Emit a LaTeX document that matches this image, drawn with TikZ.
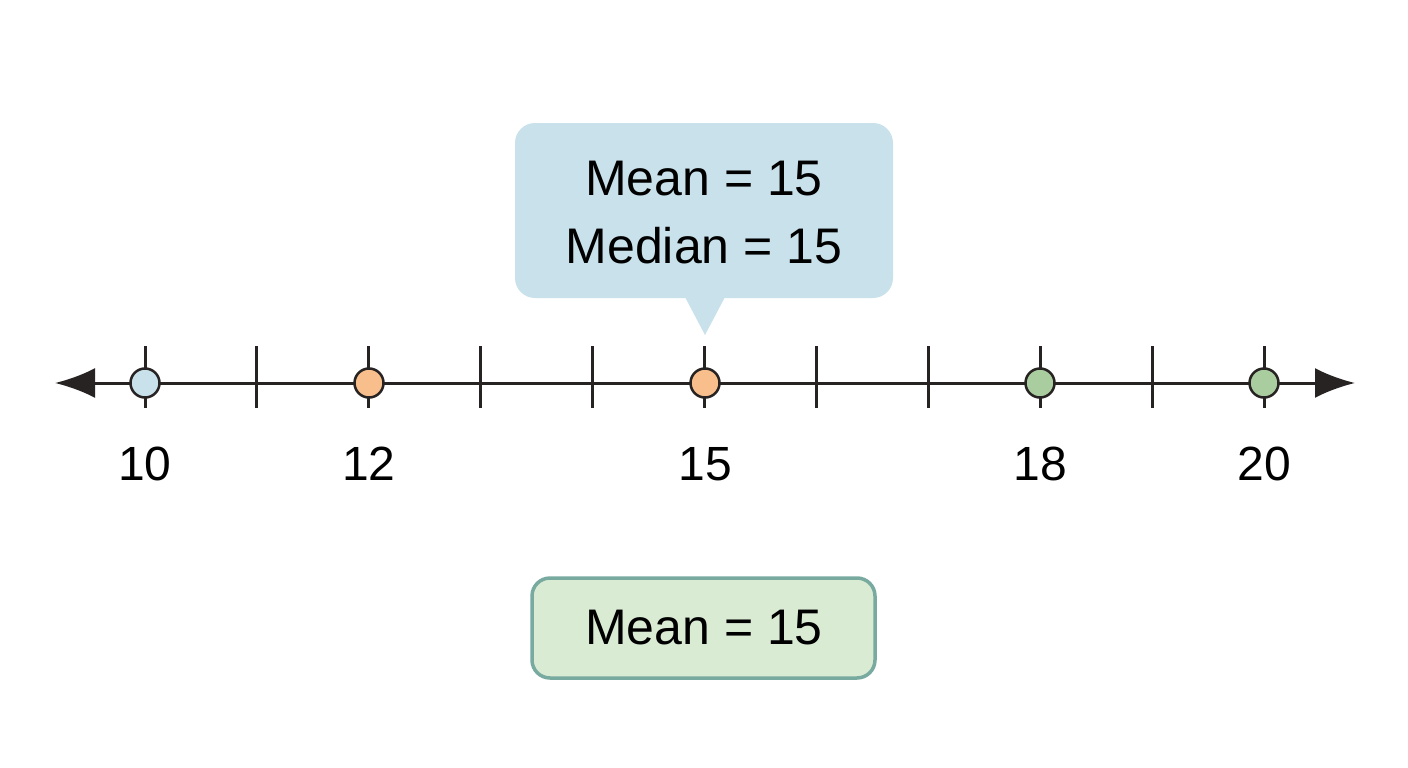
\documentclass[tikz,border=0pt]{standalone}
\usepackage{fontspec}
\setmainfont{Liberation Sans}
\usetikzlibrary{arrows.meta}
\definecolor{calloutblue}{RGB}{200,225,235}
\definecolor{boxgreen}{RGB}{218,235,212}
\definecolor{boxedge}{RGB}{120,170,160}
\definecolor{dotblue}{RGB}{200,225,235}
\definecolor{dotorange}{RGB}{248,190,140}
\definecolor{dotgreen}{RGB}{170,205,160}
\definecolor{axisgray}{RGB}{40,35,35}
\tikzset{every picture/.style={line width=3pt}}
\tikzset{
  tick/.style={draw=axisgray,line width=3pt},
  datadot/.style={circle,draw=axisgray,line width=2.5pt,minimum size=29pt,inner sep=0pt},
  numlabel/.style={font=\fontsize{48}{52}\selectfont},
}
\begin{document}
\begin{tikzpicture}[x=1pt,y=1pt,yscale=-1]
\useasboundingbox (0,0) rectangle (1408,768);

%Callout
\draw [fill=calloutblue,draw=none,rounded corners=20pt] (515,123) rectangle (893,298);
\fill [calloutblue] (685,297) -- (705,335) -- (725,297) -- cycle;
\node (stats) at (704,213) [align=center,font=\fontsize{50}{68}\selectfont] {Mean = 15\\Median = 15};

%Axis
\coordinate (left) at (55,383);
\coordinate (right) at (1355,383);
\draw [axisgray,{Latex[length=40pt,width=30pt]}-{Latex[length=40pt,width=30pt]}] (left) -- (right);
\foreach \i in {0,...,10}
  \draw [tick] ({145+111.9*\i},346) -- ({145+111.9*\i},408);

%Data points
\node [datadot,fill=dotblue] (p10) at (145,383) {};
\node [datadot,fill=dotorange] (p12) at (369,383) {};
\node [datadot,fill=dotorange] (p15) at (705,383) {};
\node [datadot,fill=dotgreen] (p18) at (1040,383) {};
\node [datadot,fill=dotgreen] (p20) at (1264,383) {};

% Text Node
\node [numlabel] (l10) at (145,464) {10};
\node [numlabel] (l12) at (369,464) {12};
\node [numlabel] (l15) at (705,464) {15};
\node [numlabel] (l18) at (1040,464) {18};
\node [numlabel] (l20) at (1264,464) {20};

%Green box
\draw [fill=boxgreen,draw=boxedge,line width=3.5pt,rounded corners=18pt] (532,578) rectangle (875,678);
\node (mean) at (704,628) [font=\fontsize{50}{60}\selectfont] {Mean = 15};
\end{tikzpicture}
\end{document}
